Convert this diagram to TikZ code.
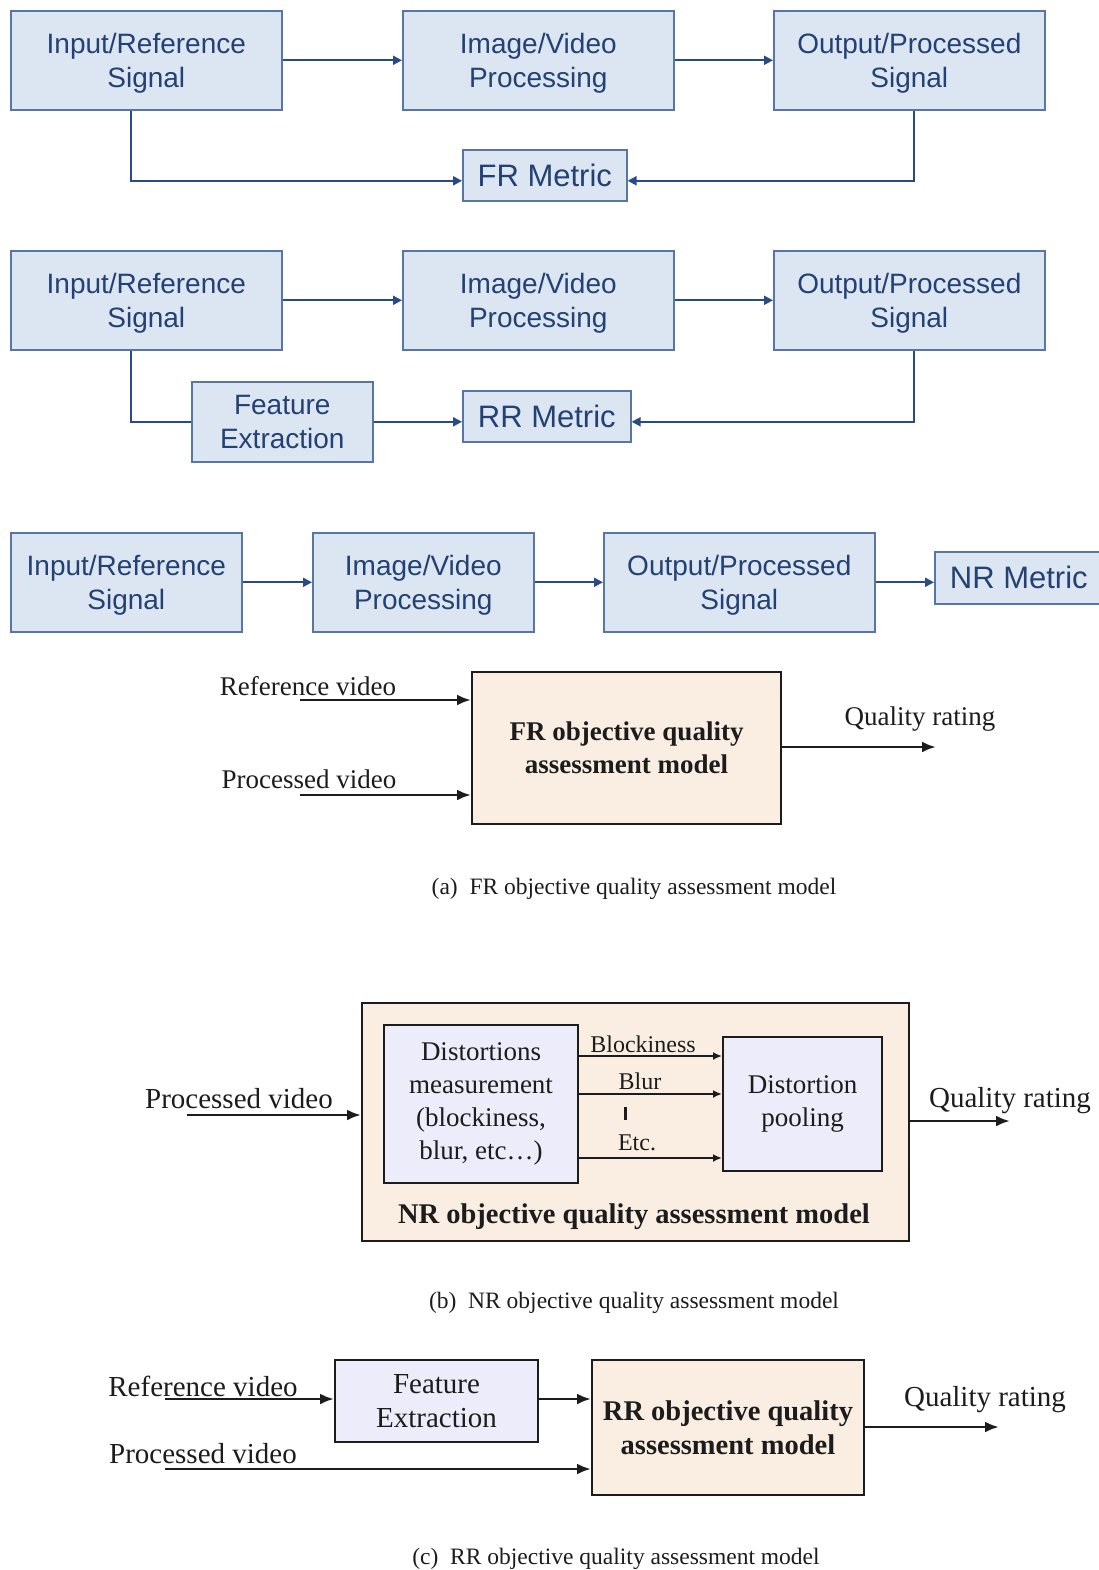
\documentclass[tikz,border=0pt]{standalone}
\usepackage{fontspec}
\setmainfont{Liberation Serif}
\setsansfont{Liberation Sans}
\usetikzlibrary{arrows.meta}

\definecolor{bfill}{RGB}{220,230,242}
\definecolor{bdraw}{RGB}{88,118,162}
\definecolor{btext}{RGB}{35,65,115}
\definecolor{bline}{RGB}{40,75,135}
\definecolor{peach}{RGB}{250,238,226}
\definecolor{lav}{RGB}{236,236,250}
\definecolor{ink}{RGB}{28,28,28}

\newcommand\blkfont{\sffamily\fontsize{28}{34}\selectfont}
\newcommand\metfont{\sffamily\fontsize{31}{36}\selectfont}
\newcommand\lblfont{\rmfamily\fontsize{27}{33}\selectfont}
\newcommand\biglblfont{\rmfamily\fontsize{29}{34}\selectfont}
\newcommand\boldfont{\rmfamily\bfseries\fontsize{27}{33}\selectfont}
\newcommand\bigboldfont{\rmfamily\bfseries\fontsize{28.5}{34}\selectfont}
\newcommand\smallfont{\rmfamily\fontsize{24}{28}\selectfont}
\newcommand\capfont{\rmfamily\fontsize{23.5}{27}\selectfont}
% taller first line, which lowers two-line captions inside the blue boxes
\newcommand\lowtop{\rule{0pt}{27pt}}

\tikzset{
  blk/.style={draw=bdraw, fill=bfill, text=btext, font=\blkfont, align=center,
    inner sep=0pt, line width=1.6pt, anchor=north west},
  met/.style={blk, font=\metfont},
  conn/.style={draw=bline, line width=2pt, -{Triangle[length=9pt,width=9pt]}},
  plain/.style={draw=bline, line width=2pt},
  model/.style={draw=ink, fill=peach, text=ink, font=\boldfont, align=center,
    inner sep=0pt, line width=2pt, anchor=north west},
  sub/.style={draw=ink, fill=lav, text=ink, font=\lblfont, align=center,
    inner sep=0pt, line width=2pt, anchor=north west},
  arr/.style={draw=ink, line width=2.8pt, -{Latex[length=14pt,width=11pt]}},
  sarr/.style={draw=ink, line width=2.2pt, -{Latex[length=9pt,width=8pt]}},
  lbl/.style={text=ink, font=\lblfont, inner sep=0pt},
  biglbl/.style={text=ink, font=\biglblfont, inner sep=0pt},
  slbl/.style={text=ink, font=\smallfont, inner sep=0pt},
  captext/.style={text=ink, font=\capfont, inner sep=0pt}
}

\begin{document}
\begin{tikzpicture}[x=1pt,y=-1pt]
\useasboundingbox[fill=white] (0,0) rectangle (1099,1570);

% ---- full reference chain ----
\node[blk, minimum width=271pt, minimum height=99pt] (a1) at (10,10) {\lowtop Input/Reference\\Signal};
\node[blk, minimum width=271pt, minimum height=99pt] (b1) at (402,10) {\lowtop Image/Video\\Processing};
\node[blk, minimum width=271pt, minimum height=99pt] (c1) at (773,10) {\lowtop Output/Processed\\Signal};
\node[met, minimum width=164pt, minimum height=51pt] (fr) at (462,149) {FR Metric};
\draw[conn] (a1.east) -- (b1.west);
\draw[conn] (b1.east) -- (c1.west);
\draw[conn] ([xshift=121pt]a1.south west) |- ([yshift=-5.5pt]fr.west);
\draw[conn] ([xshift=141pt]c1.south west) |- ([yshift=-5.5pt]fr.east);

% ---- reduced reference chain ----
\node[blk, minimum width=271pt, minimum height=99pt] (a2) at (10,250) {\lowtop Input/Reference\\Signal};
\node[blk, minimum width=271pt, minimum height=99pt] (b2) at (402,250) {\lowtop Image/Video\\Processing};
\node[blk, minimum width=271pt, minimum height=99pt] (c2) at (773,250) {\lowtop Output/Processed\\Signal};
\node[blk, minimum width=181pt, minimum height=80pt] (fe) at (191,381) {Feature\\Extraction};
\node[met, minimum width=168pt, minimum height=51pt] (rr) at (462,390) {RR Metric};
\draw[conn] (a2.east) -- (b2.west);
\draw[conn] (b2.east) -- (c2.west);
\draw[plain] ([xshift=121pt]a2.south west) |- (fe.west);
\draw[conn] (fe.east) -- (fe.east -| rr.west);
\draw[conn] ([xshift=141pt]c2.south west) |- (fe.east -| rr.east);

% ---- no reference chain ----
\node[blk, minimum width=231pt, minimum height=99pt] (a3) at (10,532) {\lowtop Input/Reference\\Signal};
\node[blk, minimum width=221pt, minimum height=99pt] (b3) at (312,532) {\lowtop Image/Video\\Processing};
\node[blk, minimum width=271pt, minimum height=99pt] (c3) at (603,532) {\lowtop Output/Processed\\Signal};
\node[met, minimum width=168pt, minimum height=52pt] (nr) at (934,551) {NR Metric};
\draw[conn] (a3.east) -- (a3.east -| b3.west);
\draw[conn] (b3.east) -- (b3.east -| c3.west);
\draw[conn] (c3.east) -- (c3.east -| nr.west);

% ---- (a) FR model ----
\node[model, minimum width=309pt, minimum height=152pt] (fm) at (471,671) {FR objective quality\\assessment model};
\coordinate (ra) at (300,700);
\coordinate (pa) at (300,795);
\coordinate (qa) at (936,747);
\node[lbl] (ral) at (308,686) {Reference video};
\node[lbl] (pal) at (309,779) {Processed video};
\node[lbl] (qal) at (920,719) {Quality rating};
\draw[arr] (ra) -- (ra -| fm.west);
\draw[arr] (pa) -- (pa -| fm.west);
\draw[arr] (fm.east |- qa) -- (qa);
\node[captext] (capa) at (634,889) {(a)\enspace FR objective quality assessment model};

% ---- (b) NR model ----
\node[model, minimum width=547pt, minimum height=238pt] (nm) at (361,1002) {};
\node[text=ink, font=\bigboldfont, inner sep=0pt] (nmt) at (634,1217) {NR objective quality assessment model};
\node[sub, minimum width=194pt, minimum height=158pt] (dm) at (383,1024)
  {Distortions\\measurement\\(blockiness,\\blur, etc\ldots)};
\node[sub, minimum width=159pt, minimum height=134pt] (dp) at (722,1036) {Distortion\\pooling};
\coordinate (yk) at (0,1056);
\coordinate (yu) at (0,1094);
\coordinate (ye) at (0,1158);
\draw[sarr] (dm.east |- yk) -- (dp.west |- yk);
\draw[sarr] (dm.east |- yu) -- (dp.west |- yu);
\draw[sarr] (dm.east |- ye) -- (dp.west |- ye);
\node[slbl] (kl) at (643,1044) {Blockiness};
\node[slbl] (ul) at (640,1081) {Blur};
\node[slbl] (el) at (637,1143) {Etc.};
\draw[draw=ink, line width=3pt] (625,1107) -- (625,1120);
\coordinate (pb) at (187,1115);
\coordinate (qb) at (1010,1121);
\node[biglbl] (pbl) at (239,1099) {Processed video};
\node[biglbl] (qbl) at (1010,1101) {Quality rating};
\draw[arr] (pb) -- (pb -| nm.west);
\draw[arr] (nm.east |- qb) -- (qb);
\node[captext] (capb) at (634,1303) {(b)\enspace NR objective quality assessment model};

% ---- (c) RR model ----
\node[sub, font=\biglblfont, minimum width=203pt, minimum height=82pt] (fe2) at (334,1359) {Feature\\Extraction};
\node[model, font=\bigboldfont, minimum width=272pt, minimum height=135pt] (rm) at (591,1359) {RR objective quality\\assessment model};
\coordinate (rc) at (165,1399);
\coordinate (pc) at (165,1469);
\coordinate (qc) at (999,1427);
\node[biglbl] (rcl) at (203,1386) {Reference video};
\node[biglbl] (pcl) at (203,1454) {Processed video};
\node[biglbl] (qcl) at (985,1400) {Quality rating};
\draw[arr] (rc) -- (rc -| fe2.west);
\draw[arr] (fe2.east |- rc) -- (rc -| rm.west);
\draw[arr] (pc) -- (pc -| rm.west);
\draw[arr] (rm.east |- qc) -- (qc);
\node[captext] (capc) at (616,1559) {(c)\enspace RR objective quality assessment model};
\end{tikzpicture}
\end{document}
